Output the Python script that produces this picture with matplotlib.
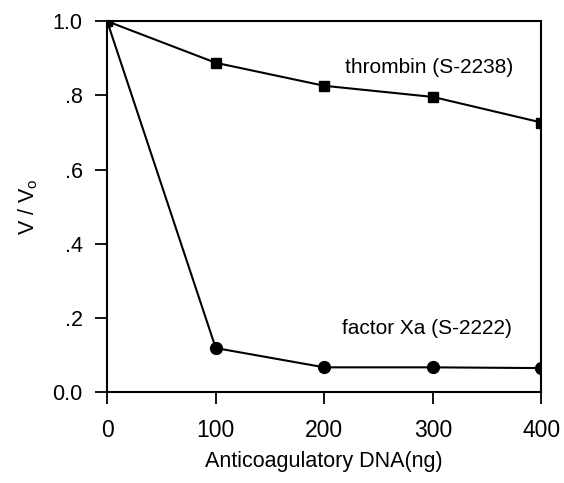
import matplotlib
matplotlib.use("Agg")
from matplotlib import pyplot as plt

plt.rcParams['font.family'] = ['Liberation Sans', 'DejaVu Sans']
plt.rcParams['mathtext.default'] = 'regular'

# данные
dna = [0, 100, 200, 300, 400]
thrombin = [1.0, 0.888, 0.826, 0.796, 0.727]
factor_xa = [1.0, 0.119, 0.067, 0.067, 0.065]

yticks = [0.0, 0.2, 0.4, 0.6, 0.8, 1.0]
ytick_labels = ['0.0', '.2', '.4', '.6', '.8', '1.0']

fig = plt.figure(figsize=(5.64, 4.83), dpi=100)
ax = fig.add_axes([0.19, 0.188, 0.77, 0.768])

ax.plot(dna, thrombin, 's-', c='black', lw=1.5, ms=7.5)
ax.plot(dna, factor_xa, 'o-', c='black', lw=1.5, ms=8.5)

ax.set_xlim(0, 400)
ax.set_ylim(0, 1.0)
ax.set_xticks(dna)
ax.set_yticks(yticks)
ax.set_yticklabels(ytick_labels)
ax.tick_params(direction='out', length=8.6, width=1.3)
ax.tick_params(axis='x', labelsize=16.5, pad=11)
ax.tick_params(axis='y', labelsize=15.5, pad=9)
for s in ax.spines.values():
    s.set_linewidth(1.5)

ax.text(219, 0.876, 'thrombin (S-2238)', fontsize=15, va='center')
ax.text(216, 0.172, 'factor Xa (S-2222)', fontsize=15, va='center')

ax.set_xlabel('Anticoagulatory DNA(ng)', fontsize=15.5, labelpad=6)
ax.set_ylabel('V / V$_{o}$', fontsize=15.5, labelpad=9)

plt.savefig('out.png', dpi=100)
